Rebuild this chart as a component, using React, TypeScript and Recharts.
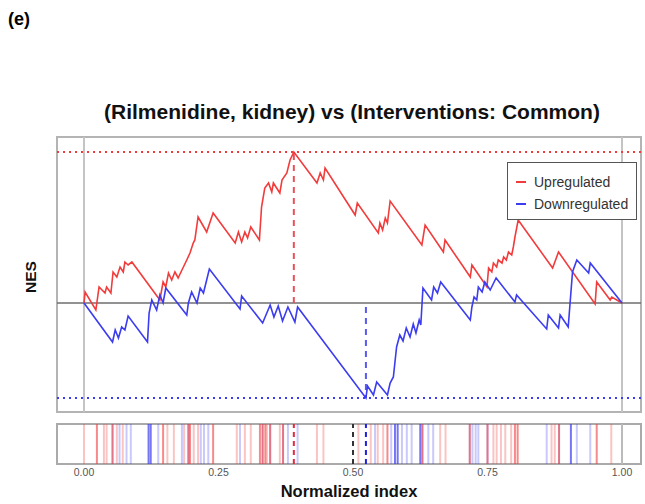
import { LineChart, Line, ComposedChart, XAxis, YAxis, ReferenceLine, ReferenceArea, Legend } from 'recharts'

const font = '"Liberation Sans", Arial, sans-serif'

// running enrichment walks (normalized index, NES)
const upX = [0, 0.002, 0.022, 0.028, 0.039, 0.042, 0.05, 0.054, 0.061, 0.067, 0.073, 0.076, 0.082, 0.089, 0.141, 0.147, 0.152, 0.157, 0.163, 0.169, 0.175, 0.182, 0.191, 0.197, 0.203, 0.206, 0.212, 0.228, 0.24, 0.281, 0.287, 0.293, 0.299, 0.304, 0.31, 0.326, 0.33, 0.336, 0.343, 0.349, 0.352, 0.364, 0.368, 0.377, 0.383, 0.39, 0.433, 0.439, 0.445, 0.448, 0.504, 0.508, 0.547, 0.55, 0.555, 0.56, 0.564, 0.569, 0.628, 0.634, 0.668, 0.671, 0.718, 0.721, 0.749, 0.752, 0.758, 0.761, 0.767, 0.77, 0.777, 0.78, 0.785, 0.789, 0.795, 0.798, 0.801, 0.807, 0.871, 0.882, 0.95, 0.953, 0.978, 0.981, 1]
const upNES = [0, 0.055, -0.035, 0.08, 0.05, 0.08, 0.05, 0.155, 0.13, 0.18, 0.155, 0.205, 0.19, 0.205, 0.015, 0.105, 0.08, 0.15, 0.115, 0.155, 0.125, 0.165, 0.215, 0.25, 0.3, 0.315, 0.43, 0.355, 0.45, 0.3, 0.355, 0.305, 0.355, 0.325, 0.38, 0.315, 0.48, 0.575, 0.6, 0.555, 0.6, 0.55, 0.615, 0.65, 0.715, 0.755, 0.6, 0.65, 0.615, 0.675, 0.44, 0.5, 0.35, 0.4, 0.365, 0.425, 0.4, 0.51, 0.29, 0.39, 0.255, 0.315, 0.13, 0.19, 0.08, 0.175, 0.155, 0.2, 0.18, 0.215, 0.2, 0.23, 0.215, 0.255, 0.24, 0.28, 0.33, 0.415, 0.175, 0.255, -0.005, 0.105, 0.015, 0.03, 0]

const downX = [0, 0.053, 0.058, 0.064, 0.07, 0.076, 0.082, 0.118, 0.121, 0.126, 0.135, 0.141, 0.147, 0.152, 0.191, 0.194, 0.2, 0.21, 0.216, 0.222, 0.228, 0.233, 0.29, 0.293, 0.332, 0.346, 0.353, 0.361, 0.369, 0.379, 0.392, 0.397, 0.524, 0.527, 0.538, 0.544, 0.564, 0.569, 0.575, 0.581, 0.587, 0.593, 0.599, 0.606, 0.612, 0.617, 0.623, 0.626, 0.63, 0.646, 0.65, 0.657, 0.663, 0.718, 0.721, 0.725, 0.73, 0.733, 0.74, 0.745, 0.755, 0.766, 0.801, 0.804, 0.86, 0.863, 0.882, 0.885, 0.9, 0.908, 0.916, 0.938, 0.941, 1]
const downNES = [0, -0.195, -0.135, -0.175, -0.12, -0.135, -0.065, -0.195, -0.05, 0.015, -0.035, 0.04, 0, 0.075, -0.06, 0, 0.055, 0, 0.075, 0.05, 0.115, 0.17, -0.03, 0.035, -0.1, -0.01, -0.07, -0.015, -0.09, -0.02, -0.095, -0.02, -0.475, -0.415, -0.46, -0.395, -0.46, -0.4, -0.37, -0.22, -0.16, -0.19, -0.125, -0.17, -0.105, -0.15, -0.085, -0.11, 0.075, 0.015, 0.08, 0.05, 0.105, -0.085, -0.02, 0.03, 0.015, 0.08, 0.055, 0.105, 0.065, 0.125, 0.005, 0.04, -0.13, -0.06, -0.125, -0.06, -0.12, 0.155, 0.215, 0.15, 0.2, 0]

// barcode hit positions
const upHitsStrong = [0.024, 0.053, 0.147, 0.194, 0.197, 0.24, 0.327, 0.332, 0.337, 0.346, 0.37, 0.564, 0.629, 0.717, 0.75, 0.801, 0.806, 0.883, 0.953]
const upHitsFaint = [0, 0.037, 0.042, 0.061, 0.072, 0.155, 0.167, 0.186, 0.204, 0.212, 0.284, 0.299, 0.31, 0.34, 0.364, 0.433, 0.445, 0.51, 0.533, 0.546, 0.556, 0.662, 0.672, 0.761, 0.767, 0.775, 0.783, 0.794, 0.869, 0.875, 0.98]
const downHitsStrong = [0.12, 0.124, 0.578, 0.583, 0.625, 0.905]
const downHitsFaint = [0.053, 0.066, 0.079, 0.087, 0.138, 0.182, 0.194, 0.217, 0.223, 0.231, 0.29, 0.332, 0.346, 0.37, 0.379, 0.397, 0.541, 0.571, 0.591, 0.6, 0.609, 0.629, 0.64, 0.649, 0.717, 0.722, 0.728, 0.733, 0.75, 0.86, 0.883, 0.916, 0.941]
const midMarker = 0.5

const xTicks = [0, 0.25, 0.5, 0.75, 1]
const seriesNames = ['Upregulated', 'Downregulated']

const upWalk = upX.map((x, i) => ({ x, nes: upNES[i] }))
const downWalk = downX.map((x, i) => ({ x, nes: downNES[i] }))

const upMax = Math.max(...upNES)
const upPeakX = upX[upNES.indexOf(upMax)]
const downMin = Math.min(...downNES)
const downPeakX = downX[downNES.indexOf(downMin)]

const RED = '#f23c3c'
const BLUE = '#3c3cf0'
const xDomain: [number, number] = [-0.0502, 1.0353]

function LegendBox(props: any) {
    const items = [...(props.payload || [])].sort(
        (a: any, b: any) => seriesNames.indexOf(a.value) - seriesNames.indexOf(b.value)
    )
    return (
        <div style={{ border: '1px solid #555', background: '#fff', width: 130, height: 58, boxSizing: 'border-box', padding: '8px 0 0 8px', fontFamily: font, fontSize: 14, color: '#333' }}>
            {items.map((it: any) => (
                <div key={it.value} style={{ display: 'flex', alignItems: 'center', height: 22 }}>
                    <span style={{ display: 'inline-block', width: 10, height: 2, background: it.color, marginRight: 8 }} />
                    <span>{it.value}</span>
                </div>
            ))}
        </div>
    )
}

export default function App() {
    return (
        <div style={{ position: 'absolute', left: 0, top: 0, width: 645, height: 504, background: '#fff', fontFamily: font }}>
            <div style={{ position: 'absolute', left: 8, top: 9, fontSize: 18, fontWeight: 'bold' }}>(e)</div>
            <div style={{ position: 'absolute', left: 0, width: 704, top: 100, textAlign: 'center', fontSize: 21, fontWeight: 'bold', color: '#111' }}>
                (Rilmenidine, kidney) vs (Interventions: Common)
            </div>
            <div style={{ position: 'absolute', left: 31, top: 277, transform: 'translate(-50%, -50%) rotate(-90deg)', fontSize: 15.5, fontWeight: 'bold', color: '#111' }}>NES</div>
            <div style={{ position: 'absolute', left: 0, width: 698, top: 482, textAlign: 'center', fontSize: 16.5, fontWeight: 'bold', color: '#111' }}>Normalized index</div>

            <div style={{ position: 'absolute', left: 0, top: 0 }}>
                <LineChart width={645} height={420} margin={{ top: 137, right: 4, bottom: 8, left: 57 }}>
                    <XAxis type="number" dataKey="x" domain={xDomain} hide allowDataOverflow />
                    <YAxis type="number" domain={[-0.545, 0.83]} hide allowDataOverflow />
                    <ReferenceArea x1={xDomain[0]} x2={xDomain[1]} y1={-0.545} y2={0.83} fill="none" stroke="#b4b4b4" strokeWidth={2} />
                    <ReferenceLine x={0} stroke="#c4c4c4" strokeWidth={2} />
                    <ReferenceLine x={1} stroke="#c4c4c4" strokeWidth={2} />
                    <ReferenceLine y={0} stroke="#6e6e6e" strokeWidth={1.5} />
                    <ReferenceLine y={upMax} stroke={RED} strokeWidth={2} strokeDasharray="2 4" />
                    <ReferenceLine y={downMin} stroke={BLUE} strokeWidth={2} strokeDasharray="2 4" />
                    <ReferenceLine segment={[{ x: upPeakX, y: 0 }, { x: upPeakX, y: upMax }]} stroke="#e8505a" strokeWidth={2} strokeDasharray="6 5" />
                    <ReferenceLine segment={[{ x: downPeakX, y: -0.02 }, { x: downPeakX, y: downMin }]} stroke="#5a5af0" strokeWidth={2} strokeDasharray="6 5" />
                    <Line data={upWalk} dataKey="nes" name={seriesNames[0]} type="linear" stroke={RED} strokeWidth={1.6} dot={false} isAnimationActive={false} />
                    <Line data={downWalk} dataKey="nes" name={seriesNames[1]} type="linear" stroke={BLUE} strokeWidth={1.6} dot={false} isAnimationActive={false} />
                    <Legend layout="vertical" align="center" verticalAlign="middle" content={<LegendBox />} wrapperStyle={{ left: 507, top: 162, width: 130, height: 58 }} />
                </LineChart>
            </div>

            <div style={{ position: 'absolute', left: 0, top: 420 }}>
                <ComposedChart width={645} height={84} margin={{ top: 4, right: 4, bottom: 0, left: 57 }} data={xTicks.map((x) => ({ x }))}>
                    <XAxis type="number" dataKey="x" domain={xDomain} ticks={xTicks} interval={0} allowDataOverflow
                        tickFormatter={(v: number) => v.toFixed(2)} axisLine={false} tickLine={false} tickSize={0} tickMargin={5} height={40}
                        tick={{ fontSize: 10.5, fill: '#555', fontFamily: font }} />
                    <YAxis type="number" domain={[0, 1]} hide allowDataOverflow />
                    {upHitsFaint.map((x, i) => (
                        <ReferenceLine key={'uf' + i} x={x} stroke={RED} strokeOpacity={0.3} strokeWidth={2} />
                    ))}
                    {downHitsFaint.map((x, i) => (
                        <ReferenceLine key={'df' + i} x={x} stroke={BLUE} strokeOpacity={0.28} strokeWidth={2} />
                    ))}
                    {upHitsStrong.map((x, i) => (
                        <ReferenceLine key={'us' + i} x={x} stroke={RED} strokeOpacity={0.6} strokeWidth={2} />
                    ))}
                    {downHitsStrong.map((x, i) => (
                        <ReferenceLine key={'ds' + i} x={x} stroke={BLUE} strokeOpacity={0.7} strokeWidth={2} />
                    ))}
                    <ReferenceLine x={1} stroke="#bbb" strokeWidth={2} />
                    <ReferenceLine x={upPeakX} stroke="#e02a40" strokeWidth={2} strokeDasharray="5 4" />
                    <ReferenceLine x={midMarker} stroke="#333" strokeWidth={2} strokeDasharray="5 4" />
                    <ReferenceLine x={downPeakX} stroke="#2020e0" strokeWidth={2} strokeDasharray="5 4" />
                    <ReferenceArea x1={xDomain[0]} x2={xDomain[1]} y1={0} y2={1} fill="none" stroke="#aaa" strokeWidth={2} />
                </ComposedChart>
            </div>
        </div>
    )
}
